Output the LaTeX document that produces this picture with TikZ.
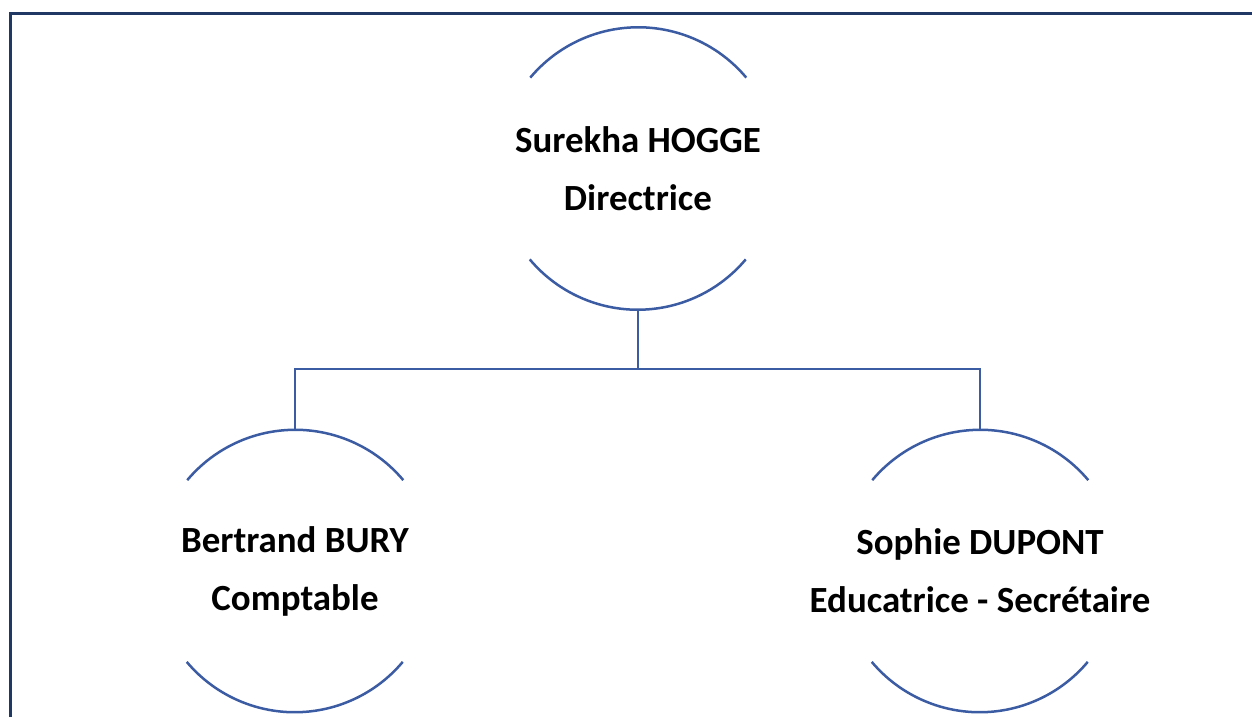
\documentclass[tikz,border=0pt]{standalone}
\usepackage{fontspec}
\setmainfont{Carlito}
\usetikzlibrary{positioning}

\definecolor{framenavy}{RGB}{31,56,100}
\definecolor{orgblue}{RGB}{59,91,163}

\begin{document}
\begin{tikzpicture}[
		person/.style={circle,minimum size=5.64cm,inner sep=0pt,
			label={[align=center,font=\bfseries\fontsize{21}{33}\selectfont]center:{#1}}},
		arcline/.style={orgblue,line width=0.05cm},
		link/.style={orgblue,line width=0.05cm}]
		\useasboundingbox (0,0) rectangle (25.04,-14.34);

		% page frame (top and left only)
		\draw [framenavy,line width=0.07cm] (0.21,-14.34) -- (0.21,-0.27) -- (25.04,-0.27);

		\node [person={Surekha HOGGE\\Directrice}] (hogge) at (12.76,-3.37) {};
		\node [person={Bertrand BURY\\Comptable}] (bury) at (5.9,-11.42) {};
		\node [person={Sophie DUPONT\\Educatrice - Secrétaire}] (dupont) [on grid,right=13.7cm of bury] {};

		% open circles: only the top and bottom arcs
		\foreach \who in {hogge,bury,dupont} {
			\draw [arcline] (\who.40) arc[start angle=40,end angle=140,radius=2.82cm];
			\draw [arcline] (\who.220) arc[start angle=220,end angle=320,radius=2.82cm];
		}

		% connectors
		\draw [link] (hogge.south) -- ++(0,-1.18) coordinate (bar) -| (bury.north);
		\draw [link] (bar) -| (dupont.north);
	\end{tikzpicture}
\end{document}
